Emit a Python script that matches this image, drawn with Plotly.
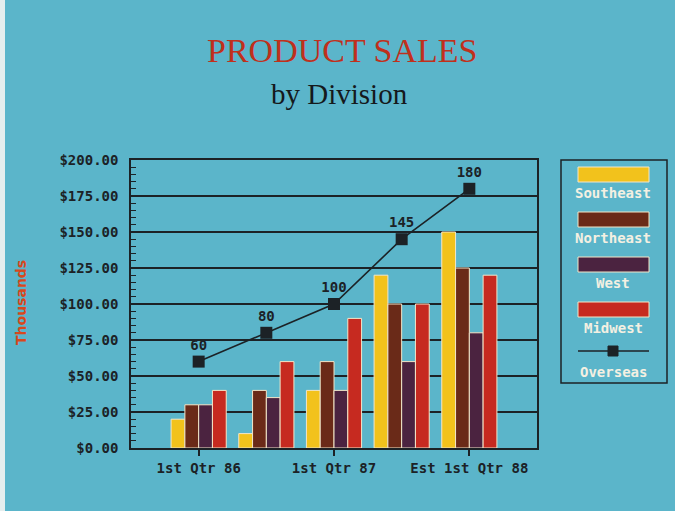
import plotly.graph_objects as go

categories = [1, 2, 3, 4, 5]
tick_vals = [1, 3, 5]
tick_labels = ["1st Qtr 86", "1st Qtr 87", "Est 1st Qtr 88"]
southeast = [20, 10, 40, 120, 150]
northeast = [30, 40, 60, 100, 125]
west = [30, 35, 40, 60, 80]
midwest = [40, 60, 90, 100, 120]
overseas = [60, 80, 100, 145, 180]
y_tick_vals = [0, 25, 50, 75, 100, 125, 150, 175, 200]
y_tick_labels = ["$0.00", "$25.00", "$50.00", "$75.00", "$100.00", "$125.00", "$150.00", "$175.00", "$200.00"]

series_names = ["Southeast", "Northeast", "West", "Midwest"]
series_vals = [southeast, northeast, west, midwest]
colors = ["#f2c21c", "#6a2a18", "#4b2340", "#c62a20"]

BG = "#5bb5ca"
INK = "#1c2226"
mono = "DejaVu Sans Mono"

W, H = 675, 511
L, R, T, B = 131, 138, 160, 63
pw, ph = W - L - R, H - T - B


def px(x):
    return (x - L) / pw


def py(y):
    return (H - B - y) / ph


fig = go.Figure()
for name, vals, c in zip(series_names, series_vals, colors):
    fig.add_trace(go.Bar(x=categories, y=vals, name=name,
                         marker=dict(color=c, line=dict(color="#f3e6c8", width=1)),
                         showlegend=False))

fig.add_trace(go.Scatter(x=categories, y=overseas, name="Overseas", mode="lines+markers+text",
                         line=dict(color=INK, width=1.6),
                         marker=dict(symbol="square", size=12, color=INK),
                         text=[str(v) for v in overseas], textposition="top center",
                         textfont=dict(family=mono, size=14, color=INK, weight="bold"),
                         showlegend=False))

fig.update_layout(
    width=W, height=H,
    paper_bgcolor=BG, plot_bgcolor=BG,
    margin=dict(l=L, r=R, t=T, b=B),
    barmode="group", bargap=0.185, bargroupgap=0,
    showlegend=False,
    xaxis=dict(range=[0, 6], tickvals=tick_vals, ticktext=tick_labels, showgrid=False,
               ticks="outside", ticklen=6, tickcolor=INK, tickwidth=1.5,
               showline=True, linecolor=INK, linewidth=1.5, mirror=True, zeroline=False,
               tickfont=dict(family=mono, size=14, color=INK, weight="bold")),
    yaxis=dict(range=[0, 200], tickvals=y_tick_vals, ticktext=y_tick_labels,
               showgrid=True, gridcolor=INK, gridwidth=1.6,
               ticks="inside", ticklen=8, tickcolor=INK, ticklabelstandoff=8,
               minor=dict(dtick=5, ticks="inside", ticklen=5, tickcolor=INK, showgrid=False),
               showline=True, linecolor=INK, linewidth=1.5, mirror=True, zeroline=False,
               tickfont=dict(family=mono, size=14, color=INK, weight="bold")),
)

# Titles
fig.add_annotation(text="PRODUCT SALES", xref="paper", yref="paper", xanchor="center", yanchor="middle",
                   x=px(342), y=py(50), showarrow=False,
                   font=dict(family="Liberation Serif", size=34, color="#c0301c"))
fig.add_annotation(text="by Division", xref="paper", yref="paper", xanchor="center", yanchor="middle",
                   x=px(339), y=py(94), showarrow=False,
                   font=dict(family="Liberation Serif", size=29, color="#15191c"))
fig.add_annotation(text="Thousands", xref="paper", yref="paper", xanchor="center", yanchor="middle",
                   x=px(21), y=py(303), textangle=-90, showarrow=False,
                   font=dict(family="DejaVu Sans", size=14, color="#d8481c", weight="bold"))

# scan edge on the left
fig.add_shape(type="rect", xref="paper", yref="paper", x0=px(0), x1=px(5), y0=py(H), y1=py(0),
              fillcolor="#e6eeee", line=dict(width=0), layer="below")

# Custom legend box
fig.add_shape(type="rect", xref="paper", yref="paper", x0=px(561), x1=px(667), y0=py(383), y1=py(160),
              line=dict(color=INK, width=1.5))
swatch_tops = [167, 212, 257, 302]
for name, c, top in zip(series_names, colors, swatch_tops):
    fig.add_shape(type="rect", xref="paper", yref="paper", x0=px(578), x1=px(649), y0=py(top + 15), y1=py(top),
                  fillcolor=c, line=dict(color="#f3e6c8", width=1))
    fig.add_annotation(text=name, xref="paper", yref="paper", x=px(613), y=py(top + 26), showarrow=False,
                       xanchor="center", yanchor="middle",
                       font=dict(family=mono, size=14, color="#f4f0e2", weight="bold"))
fig.add_shape(type="line", xref="paper", yref="paper", x0=px(578), x1=px(649), y0=py(351), y1=py(351),
              line=dict(color=INK, width=1.6))
fig.add_shape(type="rect", xref="paper", yref="paper", x0=px(608), x1=px(618), y0=py(356), y1=py(346),
              fillcolor=INK, line=dict(color=INK, width=1))
fig.add_annotation(text="Overseas", xref="paper", yref="paper", x=px(613), y=py(372), showarrow=False,
                   xanchor="center", yanchor="middle",
                   font=dict(family=mono, size=14, color="#f4f0e2", weight="bold"))

fig.write_html("out.html", config={"displayModeBar": False},
               post_script="document.body.style.margin='0px';document.body.style.background='%s';" % BG)
